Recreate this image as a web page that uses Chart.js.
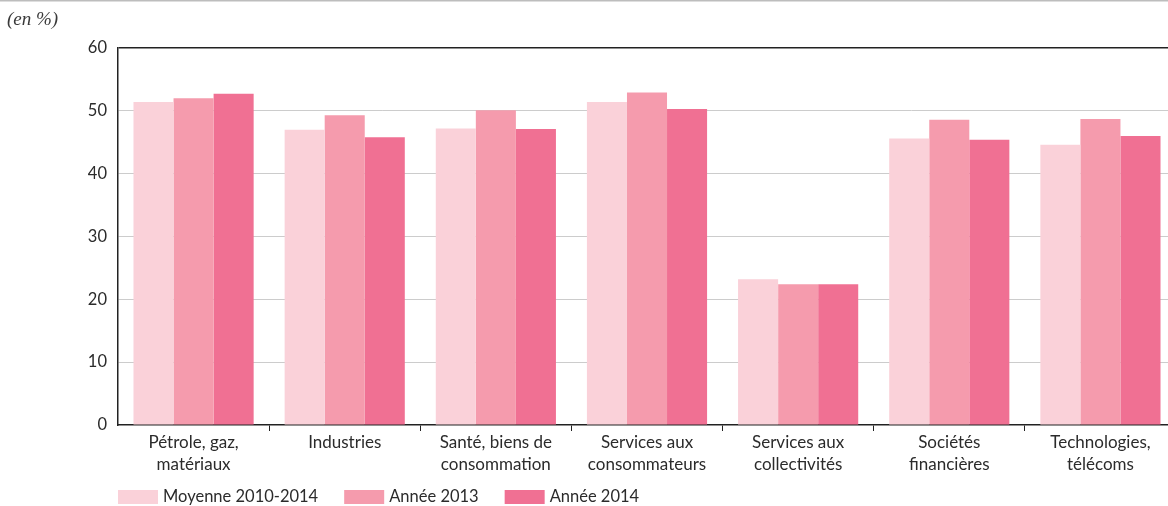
<!DOCTYPE html>
<html lang="fr">
<head>
<meta charset="utf-8">
<script src="https://cdn.jsdelivr.net/npm/chart.js@4/dist/chart.umd.min.js"></script>
<style>
  html, body { margin: 0; padding: 0; background: #fff; overflow: hidden; }
  #wrap { width: 1176px; height: 506px; position: relative; }
</style>
</head>
<body>
<div id="wrap"><canvas id="chart" width="1176" height="506"></canvas></div>
<script>
// Secteurs
const categories = [
  ['Pétrole, gaz,', 'matériaux'],
  ['Industries'],
  ['Santé, biens de', 'consommation'],
  ['Services aux', 'consommateurs'],
  ['Services aux', 'collectivités'],
  ['Sociétés', 'financières'],
  ['Technologies,', 'télécoms']
];

// Valeurs (en %)
const moyenne2010_2014 = [51.4, 47.0, 47.2, 51.4, 23.2, 45.6, 44.6];
const annee2013        = [52.0, 49.3, 50.1, 52.9, 22.4, 48.6, 48.7];
const annee2014        = [52.7, 45.8, 47.1, 50.3, 22.4, 45.4, 46.0];

const seriesNames = ['Moyenne 2010-2014', 'Année 2013', 'Année 2014'];
const yTicks = [0, 10, 20, 30, 40, 50, 60];

const colors = ['#fad1d9', '#f59bad', '#f07093'];
const textColor = '#2b2b2b';
const FONT = 'Lato, "Open Sans", sans-serif';

// Filet gris en haut, mention d'unité et légende en bas à gauche
const decorations = {
  id: 'decorations',
  beforeDraw(chart) {
    const ctx = chart.ctx;
    ctx.save();
    ctx.strokeStyle = '#bdbdbd';
    ctx.lineWidth = 2;
    ctx.beginPath();
    ctx.moveTo(0, 0.5);
    ctx.lineTo(chart.width, 0.5);
    ctx.stroke();
    ctx.fillStyle = '#3a3a3a';
    ctx.font = 'italic 19px "Liberation Serif", "DejaVu Serif", serif';
    ctx.textBaseline = 'middle';
    ctx.fillText('(en %)', 7, 20);
    ctx.restore();
  },
  afterDraw(chart) {
    const ctx = chart.ctx;
    ctx.save();
    ctx.font = '16.5px ' + FONT;
    ctx.textBaseline = 'middle';
    let x = chart.chartArea.left;
    const yMid = 497;
    chart.data.datasets.forEach((ds) => {
      ctx.fillStyle = ds.backgroundColor;
      ctx.fillRect(x, yMid - 7, 40, 14);
      x += 45;
      ctx.fillStyle = textColor;
      ctx.fillText(ds.label, x, yMid);
      x += ctx.measureText(ds.label).width + 26;
    });
    ctx.restore();
  }
};

new Chart(document.getElementById('chart'), {
  type: 'bar',
  data: {
    labels: categories,
    datasets: [
      { label: seriesNames[0], data: moyenne2010_2014, backgroundColor: colors[0] },
      { label: seriesNames[1], data: annee2013, backgroundColor: colors[1] },
      { label: seriesNames[2], data: annee2014, backgroundColor: colors[2] }
    ]
  },
  options: {
    responsive: false,
    animation: false,
    layout: { padding: { top: 48, left: 0, right: 0, bottom: 0 } },
    datasets: {
      bar: { categoryPercentage: 0.795, barPercentage: 1.0, borderWidth: 0 }
    },
    plugins: {
      legend: { display: false },
      tooltip: { enabled: false }
    },
    scales: {
      x: {
        offset: true,
        grid: {
          offset: true,
          drawOnChartArea: false,
          drawTicks: true,
          tickLength: 6,
          color: (c) => (c.index === 0 ? 'rgba(0,0,0,0)' : '#222')
        },
        border: { display: true, color: '#222', width: 1.5 },
        ticks: {
          color: textColor,
          font: { family: FONT, size: 17, lineHeight: 1.3 },
          padding: 0,
          maxRotation: 0,
          autoSkip: false
        },
        afterFit(scale) { scale.height = 81; }
      },
      y: {
        min: 0,
        max: 60,
        afterBuildTicks(scale) { scale.ticks = yTicks.map(v => ({ value: v })); },
        grid: {
          drawTicks: false,
          color: (c) => (c.tick && c.tick.value === 60 ? '#222' : (c.tick && c.tick.value === 0 ? 'rgba(0,0,0,0)' : '#cccccc')),
          lineWidth: (c) => (c.tick && c.tick.value === 60 ? 1.5 : 1)
        },
        border: { display: true, color: '#222', width: 1.5 },
        ticks: {
          color: textColor,
          font: { family: FONT, size: 16.5 },
          padding: 11
        },
        afterFit(scale) { scale.width = 118; }
      }
    }
  },
  plugins: [decorations]
});
</script>
</body>
</html>
